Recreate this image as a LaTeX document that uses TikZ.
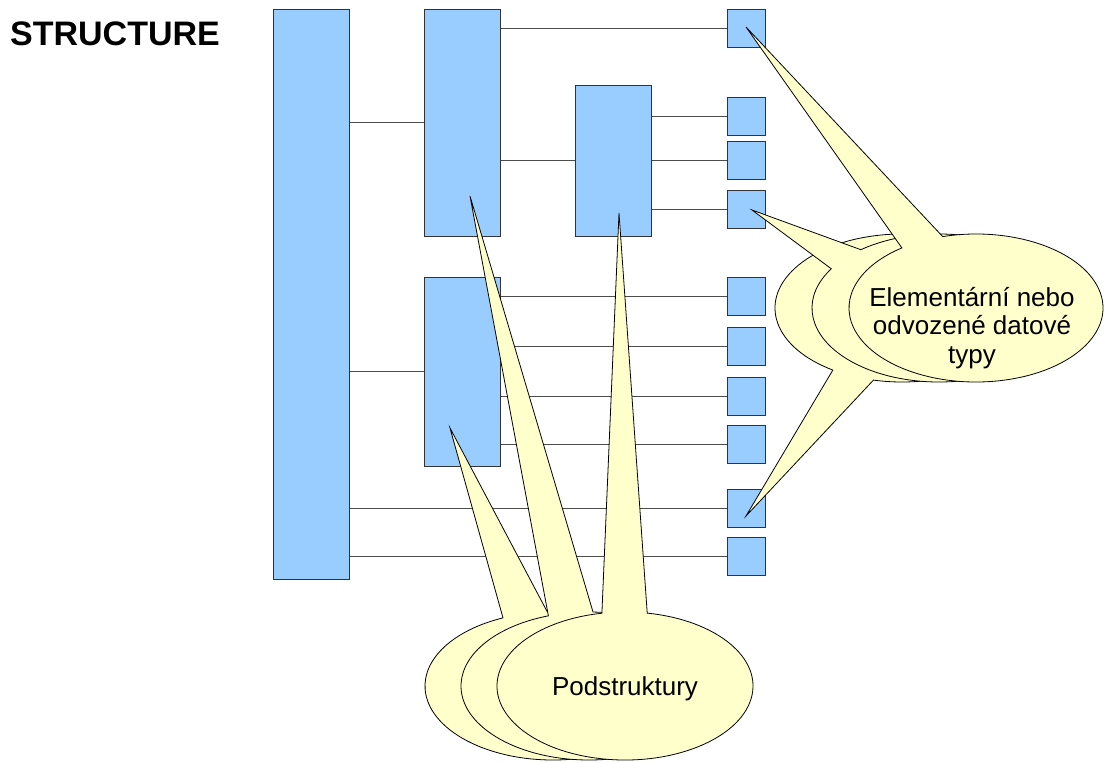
\documentclass[tikz,border=0pt]{standalone}
\usepackage{fontspec}
\setmainfont{Liberation Sans}
\usetikzlibrary{calc}
\definecolor{boxblue}{HTML}{99CCFF}
\definecolor{callyel}{HTML}{FFFFCC}
\begin{document}
\begin{tikzpicture}[x=1pt,y=-1pt,
  box/.style={draw=black!80, fill=boxblue, line width=1pt, inner sep=0pt, rectangle},
  bigbox/.style={box, minimum width=76pt},
  smallbox/.style={box, minimum width=38pt, minimum height=38pt},
  link/.style={draw=black!70, line width=1pt},
  callout/.style={draw=black, fill=callyel, line width=0.8pt, line join=miter},
  lbl/.style={font=\fontsize{26}{28.5}\selectfont, inner sep=0pt}]
\useasboundingbox (0,0) rectangle (1104,763);

% title
\node[anchor=base west, inner sep=0pt, font=\fontsize{34}{40}\selectfont\bfseries] (title) at (10,45) {STRUCTURE};

% boxes
\node[bigbox, minimum height=570pt] (big) at (311,294) {};
\node[bigbox, minimum height=227pt] (A) at (462,122.5) {};
\node[bigbox, minimum height=151pt] (B) at (613,160.5) {};
\node[bigbox, minimum height=189pt] (C) at (462,371.5) {};
\node[smallbox] (s1) at (746,28.5) {};
\node[smallbox] (s2) at (746,116) {};
\node[smallbox] (s3) at (746,160) {};
\node[smallbox] (s4) at (746,209) {};
\node[smallbox] (s5) at (746,296) {};
\node[smallbox] (s6) at (746,346) {};
\node[smallbox] (s7) at (746,396) {};
\node[smallbox] (s8) at (746,444) {};
\node[smallbox] (s9) at (746,508) {};
\node[smallbox] (s10) at (746,556) {};

% connectors (behind boxes)
\begin{scope}[on background layer/.style={}]
\end{scope}
\draw[link] (big.east |- A.west) -- (A.west);
\draw[link] (big.east |- C.west) -- (C.west);
\draw[link] (big.east |- s9.west) -- (s9.west);
\draw[link] (big.east |- s10.west) -- (s10.west);
\draw[link] (A.east |- s1.west) -- (s1.west);
\draw[link] (A.east |- B.west) -- (B.west);
\draw[link] (B.east |- s2.west) -- (s2.west);
\draw[link] (B.east |- s3.west) -- (s3.west);
\draw[link] (B.east |- s4.west) -- (s4.west);
\draw[link] (C.east |- s5.west) -- (s5.west);
\draw[link] (C.east |- s6.west) -- (s6.west);
\draw[link] (C.east |- s7.west) -- (s7.west);
\draw[link] (C.east |- s8.west) -- (s8.west);

% callouts: Podstruktury
\coordinate (p1c) at (553,686);
\coordinate (p2c) at (589,686);
\coordinate (p3c) at (625,686);
\coordinate (p1t) at (450,428);
\coordinate (p2t) at (470,196);
\coordinate (p3t) at (619,213);
\path[callout] ($(p1c)+(-113:128 and 74)$) -- (p1t) -- ($(p1c)+(-92.5:128 and 74)$)
  arc[start angle=-92.5, end angle=247, x radius=128, y radius=74] -- cycle;
\path[callout] ($(p2c)+(-108.5:128 and 74)$) -- (p2t) -- ($(p2c)+(-88.2:128 and 74)$)
  arc[start angle=-88.2, end angle=251.5, x radius=128, y radius=74] -- cycle;
\path[callout] ($(p3c)+(-100.4:128 and 74)$) -- (p3t) -- ($(p3c)+(-80:128 and 74)$)
  arc[start angle=-80, end angle=259.6, x radius=128, y radius=74] -- cycle;
\node[lbl, anchor=base] (podtext) at (625,695) {Podstruktury};

% callouts: Elementarni
\coordinate (e1c) at (902,308);
\coordinate (e2c) at (939,308);
\coordinate (e3c) at (976,308);
\coordinate (e1t) at (746,516);
\coordinate (e2t) at (752,210);
\coordinate (e3t) at (746,27);
\path[callout] ($(e1c)+(103:127 and 74)$) -- (e1t) -- ($(e1c)+(123:127 and 74)$)
  arc[start angle=123, end angle=463, x radius=127, y radius=74] -- cycle;
\path[callout] ($(e2c)+(-148:127 and 74)$) -- (e2t) -- ($(e2c)+(-128:127 and 74)$)
  arc[start angle=-128, end angle=212, x radius=127, y radius=74] -- cycle;
\path[callout] ($(e3c)+(-125.7:127 and 74)$) -- (e3t) -- ($(e3c)+(-105.2:127 and 74)$)
  arc[start angle=-105.2, end angle=234.3, x radius=127, y radius=74] -- cycle;
\node[lbl, anchor=base] (eltext) at (972,306)
  {\vtop{\baselineskip=28.5pt\halign{\hfil#\hfil\cr Elementární nebo\cr odvozené datové\cr typy\cr}}};
\end{tikzpicture}
\end{document}
